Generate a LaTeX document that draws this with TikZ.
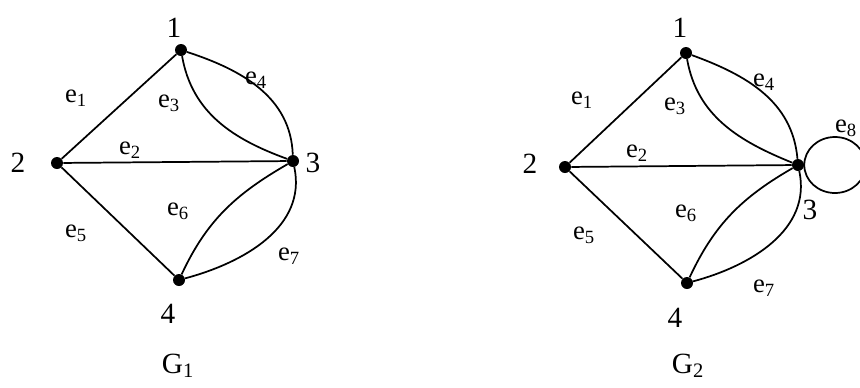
\documentclass[tikz,border=0pt]{standalone}
\usepackage{fontspec}
\setmainfont{Liberation Serif}
\usetikzlibrary{positioning}

\tikzset{
  vertex/.style={circle,fill=black,inner sep=0pt,minimum size=9pt},
  vlabel/.style={font=\fontsize{22}{24}\selectfont},
  elabel/.style={font=\fontsize{20}{22}\selectfont,inner sep=0pt},
  edge/.style={line width=1.3pt},
}

\begin{document}
\begin{tikzpicture}[x=0.75pt,y=-0.75pt]

  \useasboundingbox (0,0) rectangle (860,387);

  % ============================================================
  %  LEFT: graph G1
  % ============================================================
  \node[vertex] (a1) at (181,50)  {};
  \node[vertex] (a2) at (57,163)  {};
  \node[vertex] (a3) at (293,161) {};
  \node[vertex] (a4) at (179,280) {};

  % vertex numbers
  \node[vlabel] (a1l) at (174,28)  {1};
  \node[vlabel] (a2l) at (18,163)  {2};
  \node[vlabel] (a3l) at (313,163) {3};
  \node[vlabel] (a4l) at (168,314) {4};

  % edges
  \draw[edge] (a1) -- (a2);
  \draw[edge] (a2) -- (a3);
  \draw[edge] (a2) -- (a4);
  \draw[edge] (a1) to[out=-80,in=160] (a3);
  \draw[edge] (a1) to[out=-18,in=92] (a3);
  \draw[edge] (a4) to[out=65,in=-150] (a3);
  \draw[edge] (a3) to[out=-78,in=15] (a4);

  % edge names
  \node[elabel] (a1e1) at (76,98)   {e\textsubscript{1}};
  \node[elabel] (a1e2) at (130,150) {e\textsubscript{2}};
  \node[elabel] (a1e3) at (169,103) {e\textsubscript{3}};
  \node[elabel] (a1e4) at (256,80)  {e\textsubscript{4}};
  \node[elabel] (a1e5) at (76,233)  {e\textsubscript{5}};
  \node[elabel] (a1e6) at (178,211) {e\textsubscript{6}};
  \node[elabel] (a1e7) at (289,256) {e\textsubscript{7}};

  \node[vlabel] (g1) at (178,366) {G\textsubscript{1}};

  % ============================================================
  %  RIGHT: graph G2 (with loop at 3)
  % ============================================================
  \node[vertex] (b1) at (686,53)  {};
  \node[vertex] (b2) at (565,167) {};
  \node[vertex] (b3) at (798,165) {};
  \node[vertex] (b4) at (687,283) {};

  % vertex numbers
  \node[vlabel] (b1l) at (680,28)  {1};
  \node[vlabel] (b2l) at (530,164) {2};
  \node[vlabel] (b3l) at (810,210) {3};
  \node[vlabel] (b4l) at (675,318) {4};

  % edges
  \draw[edge] (b1) -- (b2);
  \draw[edge] (b2) -- (b3);
  \draw[edge] (b2) -- (b4);
  \draw[edge] (b1) to[out=-80,in=158] (b3);
  \draw[edge] (b1) to[out=-20,in=95] (b3);
  \draw[edge] (b4) to[out=65,in=-150] (b3);
  \draw[edge] (b3) to[out=-78,in=15] (b4);
  % loop e8
  \draw[edge] (b3.east) arc[start angle=180,end angle=-180,
                              x radius=23pt,y radius=21pt];

  % edge names
  \node[elabel] (b2e1) at (582,100) {e\textsubscript{1}};
  \node[elabel] (b2e2) at (637,153) {e\textsubscript{2}};
  \node[elabel] (b2e3) at (675,106) {e\textsubscript{3}};
  \node[elabel] (b2e4) at (764,82)  {e\textsubscript{4}};
  \node[elabel] (b2e5) at (584,235) {e\textsubscript{5}};
  \node[elabel] (b2e6) at (686,213) {e\textsubscript{6}};
  \node[elabel] (b2e7) at (764,288) {e\textsubscript{7}};
  \node[elabel] (b2e8) at (846,128) {e\textsubscript{8}};

  \node[vlabel] (g2) at (688,366) {G\textsubscript{2}};

\end{tikzpicture}
\end{document}
